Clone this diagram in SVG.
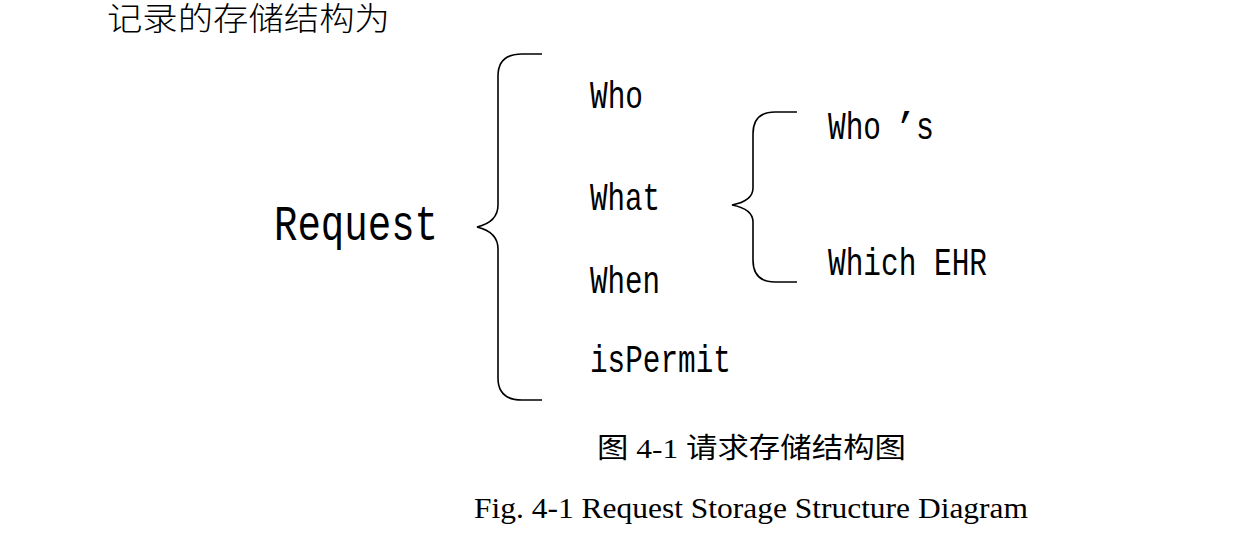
<svg xmlns="http://www.w3.org/2000/svg" width="1254" height="536" viewBox="0 0 1254 536">
<style>
.mono{font-family:"Liberation Mono","DejaVu Sans Mono",monospace;fill:#000}
.item{font-size:38px}
.cjk{font-family:"Noto Sans CJK SC",sans-serif;fill:#000}
.cap{font-family:"Liberation Serif","Noto Sans CJK SC",serif;fill:#000}
.brace{fill:none;stroke:#000;stroke-width:1.6}
</style>
<rect width="1254" height="536" fill="#fff"/>
<g id="intro"><text class="cjk" x="107" y="30" font-size="32" font-weight="300" textLength="283" lengthAdjust="spacingAndGlyphs">记录的存储结构为</text></g>
<g id="request"><text class="mono" x="274" y="240" font-size="50" textLength="164" lengthAdjust="spacingAndGlyphs">Request</text></g>
<g id="who"><text class="mono item" x="590" y="108" textLength="53" lengthAdjust="spacingAndGlyphs">Who</text></g>
<g id="what"><text class="mono item" x="590" y="210" textLength="70" lengthAdjust="spacingAndGlyphs">What</text></g>
<g id="when"><text class="mono item" x="590" y="293" textLength="70" lengthAdjust="spacingAndGlyphs">When</text></g>
<g id="ispermit"><text class="mono item" x="590" y="372" textLength="141" lengthAdjust="spacingAndGlyphs">isPermit</text></g>
<g id="whos"><text class="mono item" y="139"><tspan x="828" textLength="53" lengthAdjust="spacingAndGlyphs">Who</tspan><tspan x="894">’</tspan><tspan x="916" textLength="18" lengthAdjust="spacingAndGlyphs">s</tspan></text></g>
<g id="which"><text class="mono item" x="828" y="275" textLength="159" lengthAdjust="spacingAndGlyphs">Which EHR</text></g>
<g id="connectors">
<path class="brace" d="M542,54 L522,54 Q498,54 498,76 L498,205 Q498,222 477,227 Q498,232 498,249 L498,378 Q498,400 522,400 L542,400"/>
<path class="brace" d="M797,112 L775,112 Q753,112 753,134 L753,188 Q753,201 732,205 Q753,209 753,222 L753,260 Q753,282 775,282 L797,282"/>
</g>
<g id="caption">
<text class="cap" x="597" y="458" font-size="28" textLength="309" lengthAdjust="spacingAndGlyphs">图 4-1 请求存储结构图</text>
<text class="cap" x="474" y="518" font-size="30" textLength="554" lengthAdjust="spacingAndGlyphs">Fig. 4-1 Request Storage Structure Diagram</text>
</g>
</svg>
